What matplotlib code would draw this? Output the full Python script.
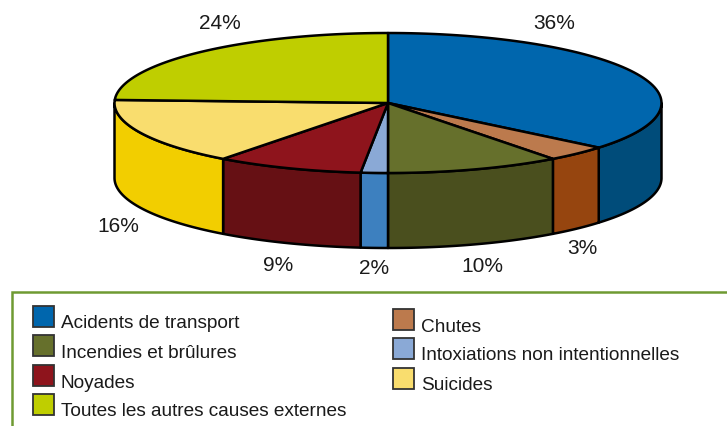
import numpy as np
import matplotlib
matplotlib.use("Agg")
import matplotlib.pyplot as plt
from matplotlib.patches import Polygon, Rectangle

# slices go clockwise from the top of the pie
categories = ["Acidents de transport", "Chutes", "Incendies et brûlures",
              "Intoxiations non intentionnelles", "Noyades", "Suicides",
              "Toutes les autres causes externes"]
shares = [36, 3.7, 10.3, 1.6, 8.7, 15.4, 24.3]
labels = ["36%", "3%", "10%", "2%", "9%", "16%", "24%"]
top_colors = ["#0066AD", "#BC7A4D", "#66702C", "#8AA9D6", "#8E141C", "#F9DD6E", "#BFCE00"]
side_colors = ["#004C7A", "#96450F", "#4A4F1E", "#3D80BF", "#661014", "#F2CE00", "#8E9900"]

label_pos = [(554, 23.5), (582, 249), (482, 266.5), (374, 269), (278, 265.5), (118, 226.5), (220, 23.5)]
left_legend = [0, 2, 4, 6]
right_legend = [1, 3, 5]
left_rows = [306, 335, 365, 394]
right_rows = [309, 338, 368]

FONT = ["Liberation Sans", "DejaVu Sans"]
cx, cy, rx, ry, depth = 388, 103, 273.5, 70, 75

fig = plt.figure(figsize=(7.27, 4.26), dpi=100)
ax = fig.add_axes([0, 0, 1, 1])
ax.set_xlim(0, 727)
ax.set_ylim(426, 0)
ax.axis("off")


def rim(a, b, dy=0):
    t = np.radians(np.linspace(a, b, 80))
    return np.column_stack([cx + rx * np.sin(t), cy - ry * np.cos(t) + dy])


edges = np.concatenate([[0], np.cumsum(shares)]) * 360 / sum(shares)

# sides first, only the front half of the rim can be seen
for i in range(len(shares)):
    a = max(edges[i], 90)
    b = min(edges[i + 1], 270)
    if b <= a:
        continue
    pts = np.vstack([rim(a, b), rim(a, b, depth)[::-1]])
    ax.add_patch(Polygon(pts, closed=True, fc=side_colors[i], ec="black", lw=1.8, joinstyle="round"))

for i in range(len(shares)):
    pts = np.vstack([[cx, cy], rim(edges[i], edges[i + 1])])
    ax.add_patch(Polygon(pts, closed=True, fc=top_colors[i], ec="black", lw=1.8, joinstyle="round"))

for lab, (x, y) in zip(labels, label_pos):
    ax.text(x, y, lab, ha="center", va="center", fontsize=15, family=FONT, color="#1a1a1a")

# legend frame is open on the right and at the bottom
ax.plot([727, 12, 12], [291.5, 291.5, 426], color="#6F9A32", lw=1.8, solid_joinstyle="miter")

for idx, rows, x0 in [(left_legend, left_rows, 33), (right_legend, right_rows, 393)]:
    for i, y in zip(idx, rows):
        ax.add_patch(Rectangle((x0, y), 21, 21, fc=top_colors[i], ec="#333333", lw=1.3))
        ax.text(x0 + 28, y + 18, categories[i], ha="left", va="center", fontsize=13.7,
                family=FONT, color="#1a1a1a")

fig.savefig("out.png", dpi=100)
